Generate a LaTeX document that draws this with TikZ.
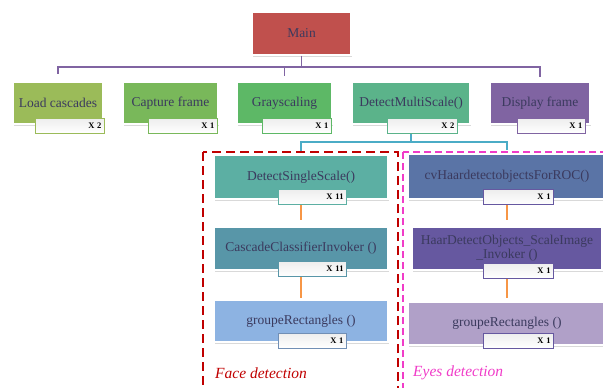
\documentclass[tikz,border=0pt]{standalone}
\usepackage{fontspec}
\setmainfont{Liberation Serif}
\usetikzlibrary{shadows}

\definecolor{inktext}{HTML}{3B3A5E}
\definecolor{mainred}{HTML}{C0504D}
\definecolor{loadgreen}{HTML}{9BBB59}
\definecolor{capturegreen}{HTML}{79B85A}
\definecolor{graygreen}{HTML}{5DB866}
\definecolor{multigreen}{HTML}{5BB38A}
\definecolor{displaypurple}{HTML}{8064A2}
\definecolor{singleteal}{HTML}{5CAFA3}
\definecolor{invokerteal}{HTML}{5896A8}
\definecolor{groupblue}{HTML}{8DB3E2}
\definecolor{haarblue}{HTML}{5A74A6}
\definecolor{scaleindigo}{HTML}{6658A0}
\definecolor{grouplilac}{HTML}{B0A0C8}
\definecolor{purplelink}{HTML}{8064A2}
\definecolor{bluelink}{HTML}{4BACC6}
\definecolor{orangelink}{HTML}{F79646}
\definecolor{facered}{HTML}{C00000}
\definecolor{eyepink}{HTML}{F03CC8}

\begin{document}
\begin{tikzpicture}[x=1pt,y=-1pt,
  box/.style={fill=#1,draw=white,line width=1.2pt,text=inktext,align=center,inner sep=2pt,
    font=\fontsize{13.5}{14}\selectfont,
    drop shadow={shadow xshift=1pt,shadow yshift=-1.5pt,opacity=.3}},
  tag/.style={draw=#1,line width=0.9pt,top color=black!7,bottom color=white,minimum height=15pt,
    inner ysep=0pt,inner xsep=3pt,align=right,font=\fontsize{8.5}{9}\selectfont\bfseries},
  trunk/.style={draw=purplelink,line width=1.2pt},
  branch/.style={draw=bluelink,line width=1.2pt},
  flow/.style={draw=orangelink,line width=1.2pt},
  faceframe/.style={draw=facered,line width=1.8pt,dash pattern=on 9pt off 5pt},
  eyeframe/.style={draw=eyepink,line width=1.4pt,dash pattern=on 7pt off 4pt},
  region/.style={font=\fontsize{15.5}{16}\selectfont\itshape,anchor=west,inner sep=0pt},
]
\useasboundingbox (0,0) rectangle (603,388);
\clip (0,0) rectangle (603,388);

% detection areas
\draw[faceframe] (203,152) rectangle (398,400);
\draw[eyeframe] (403,152) rectangle (620,400);
\node[region,text=facered] (facelbl) at (215,373) {Face detection};
\node[region,text=eyepink] (eyelbl) at (413,373) {Eyes detection};

% top levels
\node[box=mainred,minimum width=99pt,minimum height=43pt] (main) at (301.5,33.5) {Main};
\node[box=loadgreen,minimum width=90pt,minimum height=42pt] (load) at (58,103) {Load cascades};
\node[box=capturegreen,minimum width=95pt,minimum height=42pt] (capture) at (170.5,103) {Capture frame};
\node[box=graygreen,minimum width=95pt,minimum height=42pt] (gray) at (284.5,103) {Grayscaling};
\node[box=multigreen,minimum width=118pt,minimum height=42pt] (multi) at (411,103) {DetectMultiScale()};
\node[box=displaypurple,minimum width=100pt,minimum height=42pt] (display) at (540,103) {Display frame};

% face column
\node[box=singleteal,minimum width=174pt,minimum height=44pt] (single) at (301,177) {DetectSingleScale()};
\node[box=invokerteal,minimum width=174pt,minimum height=43pt] (invoker) at (301,248.5) {CascadeClassifierInvoker ()};
\node[box=groupblue,minimum width=174pt,minimum height=42pt] (groupface) at (301,321) {groupeRectangles ()};

% eyes column
\node[box=haarblue,minimum width=198pt,minimum height=45pt] (haar) at (507,176.5) {cvHaardetectobjectsForROC()};
\node[box=scaleindigo,minimum width=190pt,minimum height=43pt] (scaleimg) at (507,248.5) {HaarDetectObjects\_ScaleImage\\\_Invoker ()};
\node[box=grouplilac,minimum width=198pt,minimum height=43pt] (groupeyes) at (507,323.5) {groupeRectangles ()};

% connectors
\coordinate (bus) at (301.5,67);
\draw[trunk] (main.south) -- (bus);
\draw[trunk,shorten >=7pt] (bus) -| (load.north);
\draw[trunk,shorten >=5pt] (bus) -| (gray.north);
\draw[trunk,shorten >=4pt] (bus) -| (display.north);

\coordinate (split) at (411,142);
\draw[branch] (multi.south) -- (split);
\draw[branch,shorten >=3pt] (split) -| (single.north);
\draw[branch,shorten >=3pt] (split) -| (haar.north);

\draw[flow,shorten >=6pt] (single.south) -- (invoker.north);
\draw[flow,shorten >=1pt] (invoker.south) -- (groupface.north);
\draw[flow,shorten >=6pt] (haar.south) -- (scaleimg.north);
\draw[flow,shorten >=3pt] (scaleimg.south) -- (groupeyes.north);

% call counts
\node[tag=loadgreen,text width=63pt] (loadN) at (70,125.5) {X 2};
\node[tag=capturegreen,text width=63pt] (captureN) at (183,125.5) {X 1};
\node[tag=graygreen,text width=63pt] (grayN) at (297,125.5) {X 1};
\node[tag=multigreen,text width=64pt] (multiN) at (422.5,125.5) {X 2};
\node[tag=displaypurple,text width=62pt] (displayN) at (551.5,125.5) {X 1};
\node[tag=singleteal,text width=62pt] (singleN) at (312.5,197) {X 11};
\node[tag=invokerteal,text width=62pt] (invokerN) at (312.5,269) {X 11};
\node[tag=groupblue!80!black,text width=62pt] (groupfaceN) at (312.5,340.5) {X 1};
\node[tag=scaleindigo,text width=64pt] (haarN) at (518.5,197) {X 1};
\node[tag=scaleindigo,text width=64pt] (scaleimgN) at (518.5,270.5) {X 1};
\node[tag=scaleindigo,text width=64pt] (groupeyesN) at (518.5,340.5) {X 1};
\end{tikzpicture}
\end{document}
